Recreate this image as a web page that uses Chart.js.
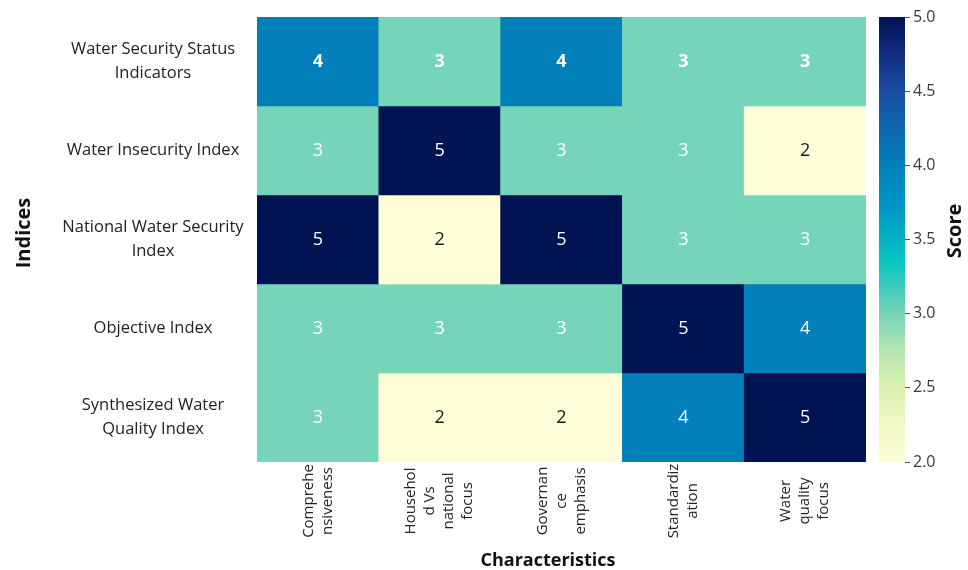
<!DOCTYPE html>
<html>
<head>
<meta charset="utf-8">
<script src="https://cdn.jsdelivr.net/npm/chart.js@4"></script>
<style>
  html, body { margin: 0; padding: 0; background: #ffffff; }
  #wrap { position: relative; width: 968px; height: 570px; }
  #main { position: absolute; left: 0; top: 0; }
  #cbar { position: absolute; left: 860px; top: 0; }
</style>
</head>
<body>
<div id="wrap">
  <canvas id="main" width="968" height="570"></canvas>
  <canvas id="cbar" width="108" height="570"></canvas>
</div>
<script>
// ---------------- DATA ----------------
const characteristics = [
  ["Comprehe", "nsiveness"],
  ["Househol", "d Vs", "national", "focus"],
  ["Governan", "ce", "emphasis"],
  ["Standardiz", "ation"],
  ["Water", "quality", "focus"]
];
const indices = [
  ["Water Security Status", "Indicators"],
  ["Water Insecurity Index"],
  ["National Water Security", "Index"],
  ["Objective Index"],
  ["Synthesized Water", "Quality Index"]
];
const waterSecurityStatusIndicators = [4, 3, 4, 3, 3];
const waterInsecurityIndex          = [3, 5, 3, 3, 2];
const nationalWaterSecurityIndex    = [5, 2, 5, 3, 3];
const objectiveIndex                = [3, 3, 3, 5, 4];
const synthesizedWaterQualityIndex  = [3, 2, 2, 4, 5];
const scoreRange = [2, 5];
const scoreTicks = [2.0, 2.5, 3.0, 3.5, 4.0, 4.5, 5.0];

const rows = [
  waterSecurityStatusIndicators,
  waterInsecurityIndex,
  nationalWaterSecurityIndex,
  objectiveIndex,
  synthesizedWaterQualityIndex
];

// ---------------- COLORMAP ----------------
const cmap = [
  [2.0,  '#fdfed7'],
  [2.25, '#f0f8c4'],
  [2.5,  '#dcf1ad'],
  [2.75, '#b6e6b2'],
  [3.0,  '#76d4b9'],
  [3.35, '#06c6c1'],
  [3.7,  '#0098c7'],
  [4.0,  '#0180b9'],
  [4.5,  '#1a4ca3'],
  [4.8,  '#0f2778'],
  [5.0,  '#021354']
];
function hexToRgb(h) { const n = parseInt(h.slice(1), 16); return [(n >> 16) & 255, (n >> 8) & 255, n & 255]; }
function colorFor(v) {
  for (let i = 0; i < cmap.length - 1; i++) {
    const [a, ca] = cmap[i], [b, cb] = cmap[i + 1];
    if (v >= a && v <= b) {
      const t = (v - a) / (b - a), A = hexToRgb(ca), B = hexToRgb(cb);
      return 'rgb(' + A.map((x, k) => Math.round(x + (B[k] - x) * t)).join(',') + ')';
    }
  }
  return v < cmap[0][0] ? cmap[0][1] : cmap[cmap.length - 1][1];
}

const FONT = "'Open Sans', 'DejaVu Sans', sans-serif";
const TEXT = '#222222';

// ---------------- MAIN HEATMAP ----------------
const labelsPlugin = {
  id: 'heatLabels',
  afterDraw(chart) {
    const ctx = chart.ctx;
    const xs = chart.scales.x, ys = chart.scales.y;
    ctx.save();
    // cell values
    chart.data.datasets.forEach((ds, i) => {
      const meta = chart.getDatasetMeta(i);
      meta.data.forEach((el, j) => {
        const v = rows[i][j];
        const c = el.getCenterPoint();
        ctx.font = (i === 0 ? 'bold ' : '') + '18px ' + FONT;
        ctx.fillStyle = v <= 2 ? '#1a1a1a' : '#ffffff';
        ctx.textAlign = 'center';
        ctx.textBaseline = 'middle';
        ctx.fillText(String(v), c.x, c.y);
      });
    });
    // y (row) labels
    ctx.font = '16.5px ' + FONT;
    ctx.fillStyle = TEXT;
    ctx.textAlign = 'center';
    ctx.textBaseline = 'middle';
    indices.forEach((lines, i) => {
      const yc = ys.getPixelForValue(i + 0.5);
      const lh = 24;
      lines.forEach((t, k) => {
        ctx.fillText(t, 153, yc + (k - (lines.length - 1) / 2) * lh);
      });
    });
    // x (column) labels, rotated, centered
    ctx.font = '15px ' + FONT;
    characteristics.forEach((lines, j) => {
      const xc = xs.getPixelForValue(j);
      ctx.save();
      ctx.translate(xc, 501);
      ctx.rotate(-Math.PI / 2);
      const lh = 19;
      lines.forEach((t, k) => {
        ctx.fillText(t, 0, (k - (lines.length - 1) / 2) * lh);
      });
      ctx.restore();
    });
    // axis titles
    ctx.font = 'bold 20px ' + FONT;
    ctx.fillStyle = '#111111';
    ctx.save();
    ctx.translate(24, 233);
    ctx.rotate(-Math.PI / 2);
    ctx.fillText('Indices', 0, 0);
    ctx.restore();
    ctx.font = 'bold 18px ' + FONT;
    ctx.fillText('Characteristics', 548, 561);
    ctx.restore();
  }
};

new Chart(document.getElementById('main'), {
  type: 'bar',
  data: {
    labels: characteristics.map(l => l.join(' ')),
    datasets: rows.map((r, i) => ({
      label: indices[i].join(' '),
      data: r.map(() => 1),
      backgroundColor: r.map(v => colorFor(v)),
      borderWidth: 0,
      barPercentage: 1,
      categoryPercentage: 1
    }))
  },
  options: {
    responsive: false,
    animation: false,
    layout: { padding: { left: 257, right: 102, top: 17, bottom: 108 } },
    plugins: { legend: { display: false }, tooltip: { enabled: false } },
    scales: {
      x: { type: 'category', stacked: true, display: false },
      y: { type: 'linear', stacked: true, min: 0, max: 5, reverse: true, display: false }
    }
  },
  plugins: [labelsPlugin]
});

// ---------------- COLORBAR ----------------
const scoreTitle = {
  id: 'scoreTitle',
  afterDraw(chart) {
    const ctx = chart.ctx;
    ctx.save();
    ctx.font = 'bold 20px ' + FONT;
    ctx.fillStyle = '#111111';
    ctx.textAlign = 'center';
    ctx.textBaseline = 'middle';
    ctx.translate(95, 231);
    ctx.rotate(-Math.PI / 2);
    ctx.fillText('Score', 0, 0);
    ctx.restore();
  }
};

new Chart(document.getElementById('cbar'), {
  type: 'bar',
  data: {
    labels: ['Score'],
    datasets: [{
      data: [scoreRange.slice()],
      borderWidth: 0,
      barPercentage: 1,
      categoryPercentage: 1,
      backgroundColor: (c) => {
        const chart = c.chart;
        if (!chart.chartArea) return cmap[0][1];
        const y = chart.scales.y;
        const g = chart.ctx.createLinearGradient(0, y.getPixelForValue(scoreRange[0]), 0, y.getPixelForValue(scoreRange[1]));
        cmap.forEach(([v, col]) => g.addColorStop((v - scoreRange[0]) / (scoreRange[1] - scoreRange[0]), col));
        return g;
      }
    }]
  },
  options: {
    responsive: false,
    animation: false,
    layout: { padding: { left: 19, right: 0, top: 17, bottom: 108 } },
    plugins: { legend: { display: false }, tooltip: { enabled: false } },
    scales: {
      x: { display: false },
      y: {
        type: 'linear',
        position: 'right',
        min: scoreRange[0],
        max: scoreRange[1],
        afterBuildTicks: (s) => { s.ticks = scoreTicks.map(v => ({ value: v })); },
        afterFit: (s) => { s.width = 63; },
        ticks: {
          callback: (v) => Number(v).toFixed(1),
          font: { family: FONT, size: 16 },
          color: '#3a3a3a',
          padding: 3
        },
        grid: { drawOnChartArea: false, drawTicks: true, tickLength: 5, color: '#555555', lineWidth: 1 },
        border: { display: false }
      }
    }
  },
  plugins: [scoreTitle]
});
</script>
</body>
</html>
